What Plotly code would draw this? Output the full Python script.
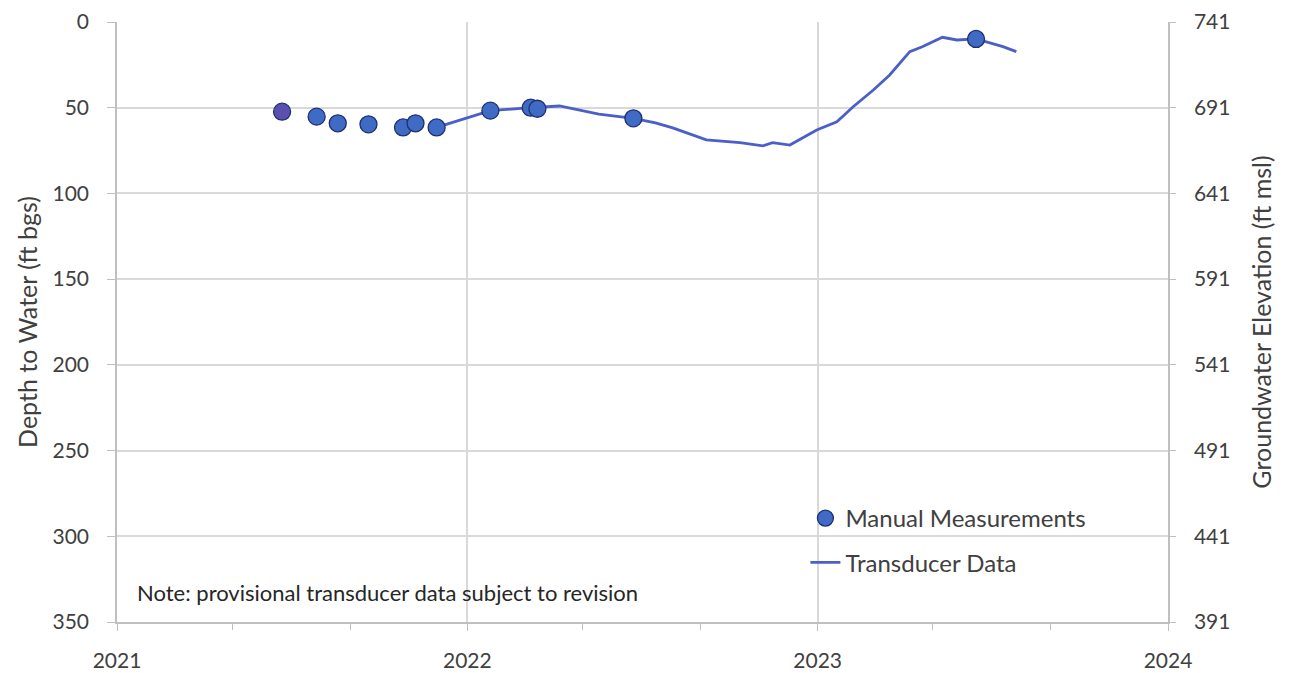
import plotly.graph_objects as go

# Manual depth-to-water measurements (ft below ground surface)
manual_dates = [
    "2021-06-22", "2021-07-28", "2021-08-19", "2021-09-20", "2021-10-26",
    "2021-11-08", "2021-11-30", "2022-01-25", "2022-03-08", "2022-03-15",
    "2022-06-23", "2023-06-15",
]
manual_depth = [52.3, 55.2, 59.1, 59.7, 61.5, 59.1, 61.5, 51.7, 50.0, 50.6, 56.2, 9.9]

# Transducer record (ft below ground surface)
trans_dates = [
    "2021-11-30", "2021-12-27", "2022-01-25", "2022-03-08", "2022-04-07",
    "2022-05-18", "2022-06-23", "2022-07-16", "2022-08-03", "2022-09-07",
    "2022-10-12", "2022-11-05", "2022-11-15", "2022-12-03", "2022-12-31",
    "2023-01-21", "2023-02-07", "2023-02-28", "2023-03-17", "2023-04-07",
    "2023-04-20", "2023-05-11", "2023-05-26", "2023-06-15", "2023-07-02",
    "2023-07-13", "2023-07-27",
]
trans_depth = [
    61.5, 56.6, 51.7, 50.0, 49.0,
    53.7, 56.2, 58.8, 61.8, 68.8,
    70.4, 72.2, 70.4, 71.8, 63.0,
    58.2, 49.4, 39.7, 30.9, 17.3,
    14.4, 8.9, 10.5, 9.9, 12.4,
    14.4, 17.3,
]

# Ground surface elevation used for the right-hand axis (ft msl)
ground_elev = 741
depth_ticks = [0, 50, 100, 150, 200, 250, 300, 350]
elev_ticks = [ground_elev - d for d in depth_ticks]
year_ticks = ["2021-01-01", "2022-01-01", "2023-01-01", "2024-01-01"]
year_labels = ["2021", "2022", "2023", "2024"]

FONT = "Lato, Open Sans, sans-serif"
TXT = "#404040"
GRID = "#D9D9D9"
AXIS = "#BFBFBF"
BLUE = "#3F6BC5"
EDGE = "#1F2F6F"

fig = go.Figure()

fig.add_trace(go.Scatter(
    x=trans_dates, y=trans_depth, mode="lines", name="Transducer Data",
    line=dict(color="#4A5FC8", width=2.8),
    legendgroup="b", legendrank=2,
))

# First manual reading is shown in a distinct shade
fig.add_trace(go.Scatter(
    x=manual_dates[:1], y=manual_depth[:1], mode="markers", showlegend=False,
    marker=dict(size=17, color="#5B4FAF", line=dict(color=EDGE, width=1.3)),
))

fig.add_trace(go.Scatter(
    x=manual_dates[1:], y=manual_depth[1:], mode="markers", name="Manual Measurements",
    marker=dict(size=17, color=BLUE, line=dict(color=EDGE, width=1.3)),
    legendgroup="a", legendrank=1,
))

# Elevation companion series for the right-hand axis
fig.add_trace(go.Scatter(
    x=trans_dates, y=[ground_elev - d for d in trans_depth], yaxis="y2",
    mode="lines", line=dict(width=0), opacity=0, showlegend=False, hoverinfo="skip",
))

fig.update_layout(
    width=1291, height=673,
    margin=dict(l=117, r=123, t=22, b=51),
    paper_bgcolor="white", plot_bgcolor="white",
    font=dict(family=FONT, color=TXT, size=21),
    xaxis=dict(
        type="date", range=["2021-01-01", "2024-01-01"],
        tickvals=year_ticks, ticktext=year_labels,
        showgrid=True, gridcolor=GRID, gridwidth=1.5,
        showline=True, linecolor=AXIS, linewidth=1.5,
        ticks="outside", ticklen=7, tickcolor=AXIS,
        ticklabelstandoff=12, automargin=False,
        minor=dict(dtick="M4", ticks="outside", ticklen=6, tickcolor=AXIS, showgrid=False),
        tickfont=dict(size=21, color=TXT),
        zeroline=False,
    ),
    yaxis=dict(
        range=[350, 0], tickvals=depth_ticks,
        showgrid=True, gridcolor=GRID, gridwidth=1.5,
        showline=True, linecolor=AXIS, linewidth=1.5,
        ticks="outside", ticklen=8, tickcolor=AXIS,
        ticklabelstandoff=14, automargin=False,
        tickfont=dict(size=21, color=TXT),
        title=dict(text="Depth to Water (ft bgs)", font=dict(size=25, color=TXT), standoff=8),
        zeroline=False,
    ),
    yaxis2=dict(
        overlaying="y", side="right", range=[391, 741], tickvals=elev_ticks,
        showgrid=False, showline=True, linecolor=AXIS, linewidth=1.5,
        ticks="outside", ticklen=6, tickcolor=AXIS,
        ticklabelstandoff=14, automargin=False,
        tickfont=dict(size=21, color=TXT),
        title=dict(text="Groundwater Elevation (ft msl)", font=dict(size=25, color=TXT), standoff=24),
        zeroline=False,
    ),
    legend=dict(
        x=0.655, y=0.21, xanchor="left", yanchor="top",
        bgcolor="rgba(255,255,255,0)", font=dict(size=24, color=TXT),
        traceorder="grouped", tracegroupgap=10,
    ),
    annotations=[dict(
        text="Note: provisional transducer data subject to revision",
        xref="paper", yref="paper", x=0.017, y=0.05,
        xanchor="left", yanchor="middle", showarrow=False,
        font=dict(size=22, color="#262626", family=FONT),
    )],
    showlegend=True,
)

fig.write_html("out.html")
